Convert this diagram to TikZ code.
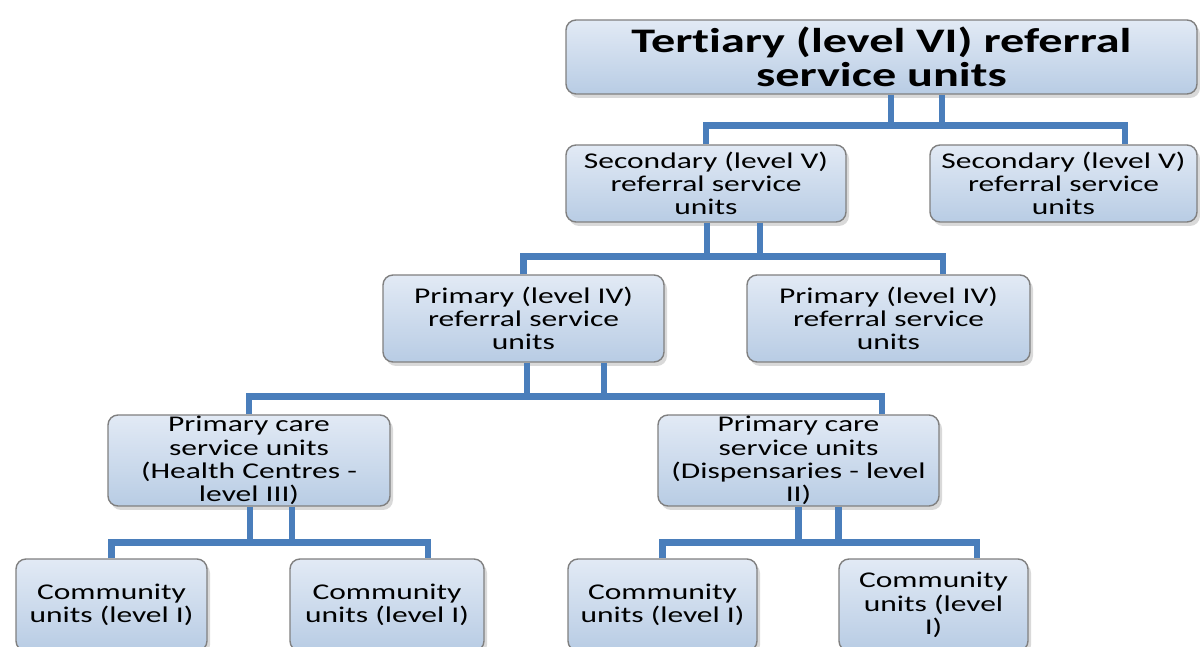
\documentclass[tikz,border=0pt]{standalone}
\usepackage{fontspec}
\setmainfont{Carlito}[FakeStretch=1.4, Ligatures=CommonOff]
\usetikzlibrary{shadows}
\definecolor{linkblue}{RGB}{74,126,187}
\definecolor{unittop}{RGB}{226,234,245}
\definecolor{unitbottom}{RGB}{184,204,228}
\definecolor{unitedge}{RGB}{128,128,128}

\begin{document}
\begin{tikzpicture}[
  unit/.style={draw=unitedge, line width=0.4pt, rounded corners=0.1cm, top color=unittop, bottom color=unitbottom,
    align=center, inner sep=0pt, font=\fontsize{6.4}{6.6}\selectfont,
    drop shadow={shadow xshift=0.3mm, shadow yshift=-0.4mm, opacity=0.3}},
  link/.style={draw=linkblue, line width=1.9pt}]
  \useasboundingbox (0, 0) rectangle (12, 6.47);
  \node [unit, minimum width=6.31cm, minimum height=0.74cm, font=\fontsize{9.8}{9.7}\selectfont\bfseries] (ter) at (8.815, 5.90) {Tertiary (level VI) referral\\service units};
  \node [unit, minimum width=2.80cm, minimum height=0.77cm] (secL) at (7.06, 4.635) {Secondary (level V)\\referral service\\units};
  \node [unit, minimum width=2.67cm, minimum height=0.77cm] (secR) at (10.635, 4.635) {Secondary (level V)\\referral service\\units};
  \node [unit, minimum width=2.81cm, minimum height=0.87cm] (priL) at (5.235, 3.285) {Primary (level IV)\\referral service\\units};
  \node [unit, minimum width=2.83cm, minimum height=0.87cm] (priR) at (8.885, 3.285) {Primary (level IV)\\referral service\\units};
  \node [unit, minimum width=2.82cm, minimum height=0.91cm] (pcL) at (2.49, 1.865) {Primary care\\service units\\(Health Centres -\\level III)};
  \node [unit, minimum width=2.81cm, minimum height=0.91cm] (pcR) at (7.985, 1.865) {Primary care\\service units\\(Dispensaries - level\\II)};
  \node [unit, minimum width=1.91cm, minimum height=0.92cm] (com1) at (1.115, 0.42) {Community\\units (level I)};
  \node [unit, minimum width=1.94cm, minimum height=0.92cm] (com2) at (3.87, 0.42) {Community\\units (level I)};
  \node [unit, minimum width=1.89cm, minimum height=0.92cm] (com3) at (6.625, 0.42) {Community\\units (level I)};
  \node [unit, minimum width=1.89cm, minimum height=0.92cm] (com4) at (9.335, 0.42) {Community\\units (level\\I)};

  \foreach \dx in {0.95mm, 6.05mm} \draw [link] ([xshift=\dx]ter.south) -- ++(0, -0.33);
  \draw [link] (secL.north) -- ++(0, 0.185) -| ([xshift=6.15mm]secR.north);

  \foreach \dx in {0.1mm, 5.4mm} \draw [link] ([xshift=\dx]secL.south) -- ++(0, -0.35);
  \draw [link] (priL.north) -- ++(0, 0.18) -| ([xshift=5.45mm]priR.north);

  \foreach \dx in {0.35mm, 8.05mm} \draw [link] ([xshift=\dx]priL.south) -- ++(0, -0.35);
  \draw [link] (pcL.north) -- ++(0, 0.18) -| ([xshift=8.35mm]pcR.north);

  \foreach \dx in {0.1mm, 4.3mm} \draw [link] ([xshift=\dx]pcL.south) -- ++(0, -0.37);
  \draw [link] (com1.north) -- ++(0, 0.16) -| ([xshift=4.1mm]com2.north);
  \foreach \dx in {0mm, 4mm} \draw [link] ([xshift=\dx]pcR.south) -- ++(0, -0.37);
  \draw [link] (com3.north) -- ++(0, 0.16) -| ([xshift=4.35mm]com4.north);
\end{tikzpicture}
\end{document}
